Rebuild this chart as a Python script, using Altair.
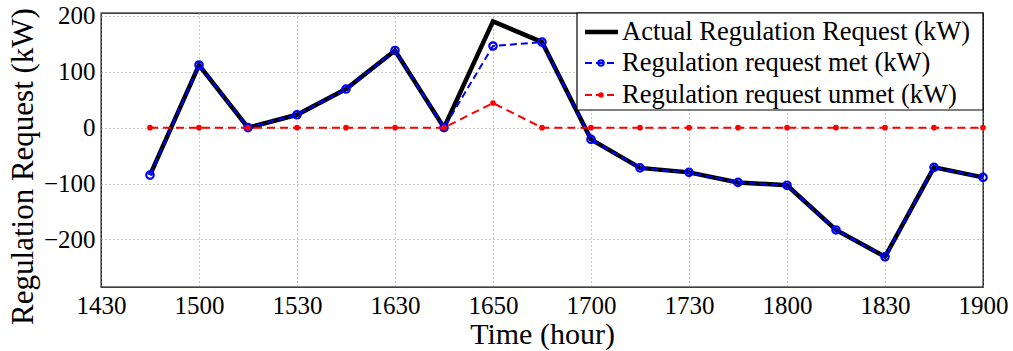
import json
import altair as alt
import pandas as pd

# ---- data ----
tick_labels = ["1430", "1500", "1530", "1630", "1650", "1700", "1730", "1800", "1830", "1900"]
slot = [1, 2, 3, 4, 5, 6, 7, 8, 9, 10, 11, 12, 13, 14, 15, 16, 17, 18]
actual = [-85, 112, 0, 23, 69, 138, 0, 190, 153, -21, -72, -80, -98, -103, -183, -231, -71, -89]
met = [-85, 112, 0, 23, 69, 138, 0, 146, 153, -21, -72, -80, -98, -103, -183, -231, -71, -89]
unmet = [0, 0, 0, 0, 0, 0, 0, 44, 0, 0, 0, 0, 0, 0, 0, 0, 0, 0]
series_names = ["Actual Regulation Request (kW)", "Regulation request met (kW)", "Regulation request unmet (kW)"]

df = pd.DataFrame({"slot": slot, "actual": actual, "met": met, "unmet": unmet})

FONT = "Liberation Serif"
W, H = 882, 274

label_expr = json.dumps(tick_labels) + "[round(datum.value/2)]"

x_enc = alt.X(
    "slot:Q",
    scale=alt.Scale(domain=[0, 18], nice=False, zero=False),
    axis=alt.Axis(
        values=list(range(0, 19, 2)),
        labelExpr=label_expr,
        labelFlush=False, labelOverlap=False,
        title="Time (hour)",
        titleFont=FONT, titleFontSize=30, titleFontWeight="normal", titleColor="black",
        titleY=56, titleBaseline="alphabetic",
        labelFont=FONT, labelFontSize=25, labelColor="black", labelPadding=6,
        ticks=False, domain=False,
        grid=True, gridColor="#8a8a8a", gridDash=[1, 3], gridWidth=1,
    ),
)

def y_enc(field):
    return alt.Y(
        f"{field}:Q",
        scale=alt.Scale(domain=[-285, 205], nice=False, zero=False),
        axis=alt.Axis(
            values=[-200, -100, 0, 100, 200],
            labelOverlap=False, labelFlush=False,
            title="Regulation Request (kW)",
            titleFont=FONT, titleFontSize=31, titleFontWeight="normal", titleColor="black",
            titleAngle=-90, titleX=-69, titleY=153, titleAlign="center", titleBaseline="alphabetic",
            labelFont=FONT, labelFontSize=25, labelColor="black", labelPadding=6,
            ticks=False, domain=False,
            grid=True, gridColor="#8a8a8a", gridDash=[1, 3], gridWidth=1,
        ),
    )

base = alt.Chart(df)

actual_line = base.mark_line(color="black", strokeWidth=4.5).encode(x=x_enc, y=y_enc("actual"))
met_line = base.mark_line(color="#0000ff", strokeWidth=2, strokeDash=[7, 4]).encode(x=x_enc, y=y_enc("met"))
met_pts = base.mark_point(shape="circle", color="#0000ff", filled=False, size=55, strokeWidth=2.2, opacity=1).encode(x=x_enc, y=y_enc("met"))
unmet_line = base.mark_line(color="#ff0000", strokeWidth=2, strokeDash=[8, 5]).encode(x=x_enc, y=y_enc("unmet"))
unmet_pts = base.mark_point(shape="circle", color="#ff0000", filled=True, size=32, opacity=1).encode(x=x_enc, y=y_enc("unmet"))

# ---- legend box (drawn inside the plot area, top-right) ----
one = alt.Chart(pd.DataFrame({"k": [0]}))
leg_box = one.mark_rect(fill="white", stroke="black", strokeWidth=1.2).encode(
    x=alt.value(476), x2=alt.value(W), y=alt.value(0), y2=alt.value(97)
)
rows_y = [19, 50, 82]
leg_layers = [leg_box]
# row 1: black solid
leg_layers.append(one.mark_rule(color="black", strokeWidth=4.5).encode(
    x=alt.value(484), x2=alt.value(517), y=alt.value(rows_y[0])))
# row 2: blue dashed + open circle
leg_layers.append(one.mark_rule(color="#0000ff", strokeWidth=2, strokeDash=[7, 4]).encode(
    x=alt.value(484), x2=alt.value(517), y=alt.value(rows_y[1])))
leg_layers.append(one.mark_point(shape="circle", color="#0000ff", filled=False, size=30, strokeWidth=2, opacity=1).encode(
    x=alt.value(500), y=alt.value(rows_y[1])))
# row 3: red dashed + filled dot
leg_layers.append(one.mark_rule(color="#ff0000", strokeWidth=2, strokeDash=[7, 4]).encode(
    x=alt.value(484), x2=alt.value(517), y=alt.value(rows_y[2])))
leg_layers.append(one.mark_point(shape="circle", color="#ff0000", filled=True, size=30, opacity=1).encode(
    x=alt.value(500), y=alt.value(rows_y[2])))
for name, yy in zip(series_names, rows_y):
    leg_layers.append(one.mark_text(font=FONT, fontSize=26.5, color="black", align="left", baseline="middle").encode(
        x=alt.value(521), y=alt.value(yy), text=alt.value(name)))

chart = alt.layer(
    actual_line, met_line, met_pts, unmet_line, unmet_pts, *leg_layers
).properties(
    width=W, height=H,
    autosize=alt.AutoSizeParams(type="none"),
    padding={"left": 101, "top": 13, "right": 30, "bottom": 64},
    background="white",
).configure_view(stroke="black", strokeWidth=1.3)

chart.save("out.html", embed_options={"renderer": "svg", "actions": False})
